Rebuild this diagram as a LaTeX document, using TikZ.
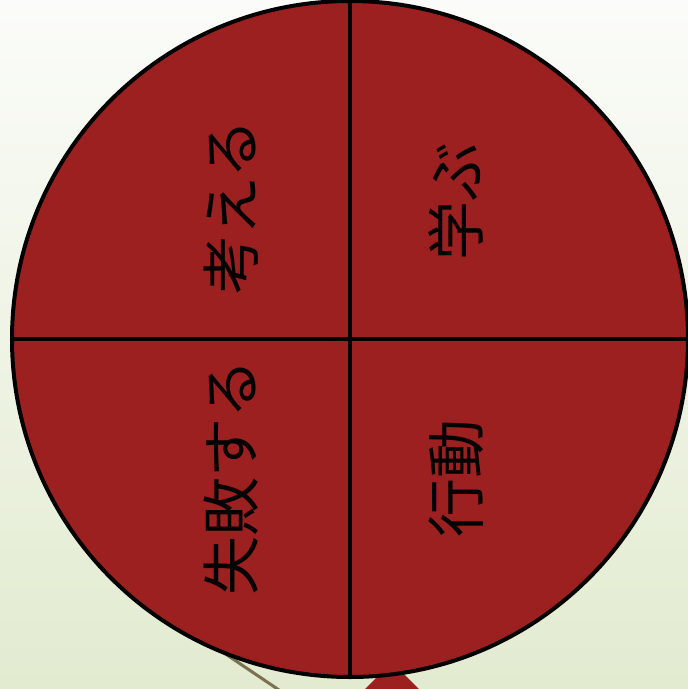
\documentclass[tikz,border=0pt]{standalone}
\usepackage{fontspec}
\newfontfamily\jpfont{Noto Sans CJK JP}
\definecolor{bgtop}{HTML}{FBFCF9}
\definecolor{bgbot}{HTML}{E2EBD0}
\definecolor{wheelred}{HTML}{9C2020}
\definecolor{olive}{HTML}{7A7152}
\tikzset{
  lbl/.style={rotate=90, font=\jpfont\fontsize{59}{59}\selectfont, text=black, inner sep=0pt},
  divider/.style={draw=black, line width=4pt}
}
\begin{document}
\begin{tikzpicture}[x=1pt,y=-1pt]
\useasboundingbox (0,0) rectangle (688,689);
\shade[top color=bgtop, bottom color=bgbot] (0,0) rectangle (688,689);
% olive line and red triangle behind the wheel
\draw[olive, line width=3pt] (190,630) -- (282,692);
\fill[wheelred] (392,662) -- (360,694) -- (424,694) -- cycle;
% wheel
\coordinate (c) at (350,339);
\fill[wheelred] (c) circle (338);
\draw[divider] (350,1) -- (350,677);
\draw[divider] (12,339) -- (688,339);
\draw[black, line width=4pt] (c) circle (338);
% labels
\node[lbl] (think) at (231,207) {考える};
\node[lbl] (learn) at (456,201) {学ぶ};
\node[lbl] (fail) at (231,477) {失敗する};
\node[lbl] (act) at (456,478) {行動};
\end{tikzpicture}
\end{document}
